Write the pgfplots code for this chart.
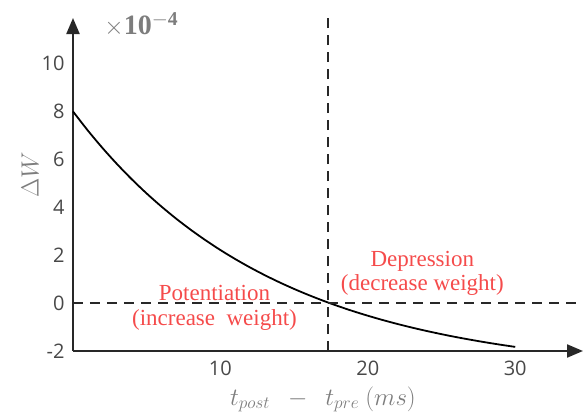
\documentclass[border=0pt]{standalone}
\usepackage{pgfplots}
\pgfplotsset{compat=1.18}
\usepackage{fontspec}
\setmainfont{Liberation Serif}
\newfontfamily\tickfont{Open Sans}
\usetikzlibrary{arrows.meta}
\definecolor{axgray}{RGB}{40,40,40}
\definecolor{lblgray}{RGB}{125,125,125}
\definecolor{txtred}{RGB}{245,75,75}
\begin{document}
\begin{tikzpicture}
\begin{axis}[
 scale only axis, width=510pt, height=333pt,
 xmin=0, xmax=34.6, ymin=-2, ymax=11.9,
 axis lines=left,
 axis line style={line width=2.2pt, color=axgray, -{Triangle[length=16pt,width=13pt]}},
 xtick={10,20,30}, ytick={-2,0,2,4,6,8,10},
 major tick length=0pt,
 tick label style={font=\fontsize{20}{20}\selectfont\tickfont, text=axgray!85},
 /pgf/number format/assume math mode=true,
 xticklabel style={yshift=-6pt},
 yticklabel style={xshift=-5pt},
 clip=false,
 xlabel={$t_{post}\ \ -\ \ t_{pre}\ (ms)$},
 xlabel style={at={(axis description cs:0.49,-0.145)}, anchor=center, font=\fontsize{25}{25}\selectfont, text=lblgray},
 ylabel={$\Delta W$},
 ylabel style={at={(axis description cs:-0.084,0.53)}, anchor=center, font=\fontsize{25}{25}\selectfont, text=lblgray},
]
\addplot[black, line width=1.8pt, smooth] coordinates {
(0,8.000)(1,7.209)(2,6.475)(3,5.794)(4,5.161)(5,4.574)(6,4.030)(7,3.524)(8,3.055)(9,2.620)(10,2.215)
(11,1.840)(12,1.492)(13,1.169)(14,0.869)(15,0.591)(16,0.333)(17,0.093)(18,-0.129)(19,-0.336)(20,-0.527)
(21,-0.705)(22,-0.870)(23,-1.023)(24,-1.165)(25,-1.297)(26,-1.420)(27,-1.533)(28,-1.639)(29,-1.737)(30,-1.828)};
\addplot[axgray, line width=2pt, dash pattern=on 10pt off 7pt] coordinates {(0,0)(34.4,0)};
\addplot[axgray, line width=2pt, dash pattern=on 10pt off 7pt] coordinates {(17.3,-2)(17.3,11.9)};
\node[txtred, font=\fontsize{23}{23}\selectfont] at (axis cs:9.6,0.42) {Potentiation};
\node[txtred, font=\fontsize{23}{23}\selectfont] at (axis cs:9.6,-0.7) {(increase\ \ weight)};
\node[txtred, font=\fontsize{23}{23}\selectfont] at (axis cs:23.7,1.75) {Depression};
\node[txtred, font=\fontsize{23}{23}\selectfont] at (axis cs:23.7,0.75) {(decrease weight)};
\node[lblgray, font=\fontsize{28}{28}\selectfont] at (axis description cs:0.134,0.98) {$\times\mathbf{10^{-4}}$};
\coordinate (O) at (rel axis cs:0,0);
\end{axis}
\pgfresetboundingbox
\path (O)++(-73pt,-62pt) rectangle ++(583pt,413pt);
\end{tikzpicture}
\end{document}
